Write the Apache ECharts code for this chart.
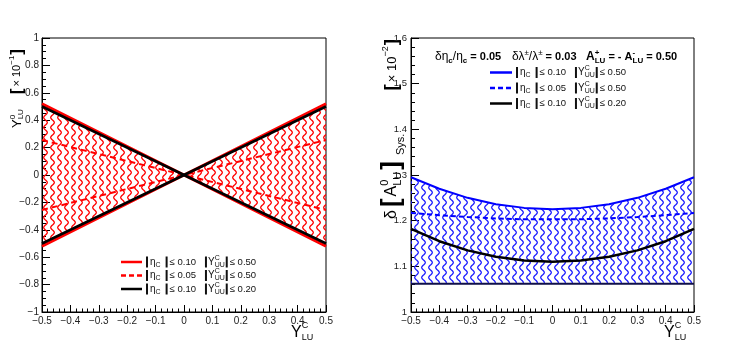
<!DOCTYPE html>
<html><head><meta charset="utf-8">
<script src="https://cdn.jsdelivr.net/npm/echarts@6/dist/echarts.min.js"></script>
<style>html,body{margin:0;padding:0;background:#fff}#c{width:737px;height:351px}</style>
</head><body><div id="c"></div>
<script>
// ---------------- data ----------------
const leftX = [-0.5, 0, 0.5];
const redSolidFall = [0.52, 0, -0.52];
const redSolidRise = [-0.52, 0, 0.52];
const redDashFall = [0.255, 0, -0.255];
const redDashRise = [-0.255, 0, 0.255];
const blackFall = [0.50, 0, -0.50];
const blackRise = [-0.50, 0, 0.50];

const rightX = [-0.5, -0.4, -0.3, -0.2, -0.1, 0, 0.1, 0.2, 0.3, 0.4, 0.5];
const blueSolid = [1.295, 1.270, 1.250, 1.236, 1.228, 1.225, 1.228, 1.236, 1.250, 1.270, 1.295];
const blueDash  = [1.217, 1.212, 1.208, 1.205, 1.203, 1.203, 1.203, 1.205, 1.208, 1.212, 1.217];
const blackCurve = [1.182, 1.155, 1.135, 1.121, 1.113, 1.110, 1.113, 1.121, 1.135, 1.155, 1.182];
const floorLine = [1.062, 1.062, 1.062, 1.062, 1.062, 1.062, 1.062, 1.062, 1.062, 1.062, 1.062];

const xTickLabels = ['−0.5', '−0.4', '−0.3', '−0.2', '−0.1', '0', '0.1', '0.2', '0.3', '0.4', '0.5'];
const leftYTickLabels = ['−1', '−0.8', '−0.6', '−0.4', '−0.2', '0', '0.2', '0.4', '0.6', '0.8', '1'];
const rightYTickLabels = ['1', '1.1', '1.2', '1.3', '1.4', '1.5', '1.6'];

const legendEta = ['0.10', '0.05', '0.10'];
const legendY = ['0.50', '0.50', '0.20'];

// ---------------- helpers ----------------
const FF = '"Liberation Sans", Arial, sans-serif';
function wavePattern(color) {
  const w = 7, h = 10;
  const c = document.createElement('canvas'); c.width = w; c.height = h;
  const g = c.getContext('2d');
  g.strokeStyle = color; g.lineWidth = 1.3;
  g.beginPath();
  for (let y = -1; y <= h + 1; y += 0.5) {
    const x = 3.5 + 1.8 * Math.sin(2 * Math.PI * y / h);
    if (y === -1) g.moveTo(x, y); else g.lineTo(x, y);
  }
  g.stroke();
  return c;
}
const mctx = document.createElement('canvas').getContext('2d');
function measure(t, s, b) { mctx.font = (b ? 'bold ' : '') + s + 'px ' + FF; return mctx.measureText(t).width; }
function T(x, y, t, s, b, color) {
  return { type: 'text', x: x, y: y, style: { text: t, fontSize: s, fontFamily: FF, fontWeight: b ? 'bold' : 'normal', fill: color || '#000', textVerticalAlign: 'middle', verticalAlign: 'middle', textAlign: 'left', align: 'left' } };
}
function layout(parts, S, col) {
  let cx = 0; const ch = [];
  for (const p of parts) {
    if (p.gap !== undefined) { cx += p.gap; continue; }
    if (p.bar) { ch.push({ type: 'rect', shape: { x: cx, y: -p.h / 2 + (p.dy || 0), width: p.w || 2, height: p.h }, style: { fill: col } }); cx += (p.w || 2); continue; }
    if (p.t !== undefined) {
      const s = p.s || S;
      ch.push(T(cx, p.dy || 0, p.t, s, p.b, col));
      cx += measure(p.t, s, p.b);
    } else {
      const s = p.s || S * 0.65; let w = 0;
      if (p.sup !== undefined) { ch.push(T(cx, -(p.up !== undefined ? p.up : S * 0.38), p.sup, s, p.b, col)); w = Math.max(w, measure(p.sup, s, p.b)); }
      if (p.sub !== undefined) { ch.push(T(cx, (p.dn !== undefined ? p.dn : S * 0.32), p.sub, s, p.b, col)); w = Math.max(w, measure(p.sub, s, p.b)); }
      cx += w;
    }
  }
  return { ch, w: cx };
}
// vertical (bottom-to-top) text; anchor: 'start' => (x,y) is bottom, 'end' => (x,y) is top
function vt(parts, opt) {
  const L = layout(parts, opt.size || 12, opt.color || '#000');
  const y0 = opt.anchor === 'end' ? opt.y + L.w : opt.y;
  return { type: 'group', x: opt.x, y: y0, rotation: Math.PI / 2, children: L.ch };
}
function rt(parts, opt) {
  const L = layout(parts, opt.size || 12, opt.color || '#000');
  return { type: 'group', x: opt.x, y: opt.y, children: L.ch };
}

// ---------------- chart ----------------
const chart = echarts.init(document.getElementById('c'), null, { renderer: 'canvas' });
const redPat = { image: wavePattern('#ff0000'), repeat: 'repeat' };
const bluePat = { image: wavePattern('#1f1fff'), repeat: 'repeat' };

function xAxisCfg(gi) {
  return {
    gridIndex: gi, type: 'value', min: -0.5, max: 0.5, interval: 0.1,
    axisLine: { show: true, onZero: false, lineStyle: { color: '#000', width: 1 } },
    axisTick: { show: true, inside: true, length: 7, lineStyle: { color: '#000' } },
    minorTick: { show: true, splitNumber: 5, length: 3.5, lineStyle: { color: '#000' } },
    splitLine: { show: false }, minorSplitLine: { show: false },
    axisLabel: { fontSize: 10, fontFamily: FF, color: '#222', margin: 4, showMinLabel: true, showMaxLabel: true,
      formatter: (v) => xTickLabels[Math.round((v + 0.5) / 0.1)] }
  };
}
const leftGrid = { left: 42, top: 38, width: 284, height: 274 };
const rightGrid = { left: 411, top: 38, width: 283, height: 274 };

function line(name, gi, xs, ys, color, width, type) {
  return { name, type: 'line', xAxisIndex: gi, yAxisIndex: gi, data: xs.map((x, i) => [x, ys[i]]), symbol: 'none', silent: true,
    lineStyle: { color, width, type: type || 'solid' }, itemStyle: { color } };
}

const option = {
  animation: false,
  backgroundColor: '#fff',
  grid: [
    Object.assign({ show: true, borderColor: '#000', borderWidth: 1, backgroundColor: 'transparent' }, leftGrid),
    Object.assign({ show: true, borderColor: '#000', borderWidth: 1, backgroundColor: 'transparent' }, rightGrid)
  ],
  xAxis: [xAxisCfg(0), xAxisCfg(1)],
  yAxis: [
    { gridIndex: 0, type: 'value', min: -1, max: 1, interval: 0.2,
      axisLine: { show: true, onZero: false, lineStyle: { color: '#000' } },
      axisTick: { show: true, inside: true, length: 8, lineStyle: { color: '#000' } },
      minorTick: { show: true, splitNumber: 4, length: 4, lineStyle: { color: '#000' } },
      splitLine: { show: false },
      axisLabel: { fontSize: 10, fontFamily: FF, color: '#222', margin: 3, formatter: (v) => leftYTickLabels[Math.round((v + 1) / 0.2)] } },
    { gridIndex: 1, type: 'value', min: 1, max: 1.6, interval: 0.1,
      axisLine: { show: true, onZero: false, lineStyle: { color: '#000' } },
      axisTick: { show: true, inside: true, length: 8, lineStyle: { color: '#000' } },
      minorTick: { show: true, splitNumber: 5, length: 4, lineStyle: { color: '#000' } },
      splitLine: { show: false },
      axisLabel: { fontSize: 9.5, fontFamily: FF, color: '#222', margin: 4, formatter: (v) => rightYTickLabels[Math.round((v - 1) / 0.1)] } }
  ],
  series: [
    // left hatched bow-tie
    { type: 'line', xAxisIndex: 0, yAxisIndex: 0, silent: true, symbol: 'none', lineStyle: { opacity: 0 },
      areaStyle: { color: redPat, opacity: 1 }, data: leftX.map((x, i) => [x, Math.max(redSolidFall[i], redSolidRise[i])]) },
    { type: 'line', xAxisIndex: 0, yAxisIndex: 0, silent: true, symbol: 'none', lineStyle: { opacity: 0 },
      areaStyle: { color: redPat, opacity: 1 }, data: leftX.map((x, i) => [x, Math.min(redSolidFall[i], redSolidRise[i])]) },
    line('redFall', 0, leftX, redSolidFall, '#ff0000', 3),
    line('redRise', 0, leftX, redSolidRise, '#ff0000', 3),
    line('redDashFall', 0, leftX, redDashFall, '#ff0000', 2, [6, 4]),
    line('redDashRise', 0, leftX, redDashRise, '#ff0000', 2, [6, 4]),
    line('blackFall', 0, leftX, blackFall, '#000000', 2.5),
    line('blackRise', 0, leftX, blackRise, '#000000', 2.5),
    // right hatched band between floor line and blue solid curve
    { type: 'custom', xAxisIndex: 1, yAxisIndex: 1, silent: true, data: [[0, 1.2]], clip: true,
      renderItem: function (params, api) {
        const pts = rightX.map((x, i) => api.coord([x, blueSolid[i]]));
        for (let i = rightX.length - 1; i >= 0; i--) pts.push(api.coord([rightX[i], floorLine[i]]));
        return { type: 'polygon', shape: { points: pts }, style: { fill: bluePat, stroke: null } };
      } },
    line('floor', 1, rightX, floorLine, '#10104a', 2),
    line('blueSolid', 1, rightX, blueSolid, '#0000ff', 2),
    line('blueDash', 1, rightX, blueDash, '#0000ff', 2, [5, 3]),
    line('blackCurve', 1, rightX, blackCurve, '#000000', 2.5)
  ],
  graphic: []
};

// ----- titles and legends -----
const G = option.graphic;
// left y title
G.push(vt([{ t: 'Y', s: 13 }, { sup: '0', sub: 'LU', s: 8 }], { x: 17, y: 128, size: 12 }));
G.push(vt([{ t: '[', s: 17, b: true }, { gap: 2 }, { t: '× 10', s: 11 }, { sup: '−1', s: 8, up: 5 }, { gap: 1 }, { t: ']', s: 17, b: true }], { x: 17, y: 49, size: 12, anchor: 'end' }));
// right y title
G.push(vt([{ t: 'δ', s: 16 }, { gap: 3 }, { t: '[', s: 26, b: true }, { gap: 2 }, { t: 'A', s: 16 }, { sup: '0', sub: 'LU', s: 11, up: 7, dn: 6 }, { gap: 2 }, { t: ']', s: 26, b: true }, { gap: 6 }, { sub: 'Sys.', s: 11, dn: 9 }],
  { x: 392, y: 219, size: 16 }));
G.push(vt([{ t: '[', s: 19, b: true }, { gap: 2 }, { t: '× 10', s: 13 }, { sup: '−2', s: 9, up: 6 }, { gap: 1 }, { t: ']', s: 19, b: true }], { x: 392, y: 39, size: 13, anchor: 'end' }));
// x titles
G.push(rt([{ t: 'Y', s: 16 }, { sup: 'C', sub: 'LU', s: 9, up: 7, dn: 5 }], { x: 291, y: 333, size: 16 }));
G.push(rt([{ t: 'Y', s: 16 }, { sup: 'C', sub: 'LU', s: 9, up: 7, dn: 5 }], { x: 664, y: 333, size: 16 }));
// right annotation
G.push(rt([{ t: 'δη', s: 12 }, { sub: 'c', s: 8, b: true, dn: 4 }, { t: '/η', s: 12 }, { sub: 'c', s: 8, b: true, dn: 4 }, { t: ' = 0.05', s: 11, b: true }], { x: 435, y: 57, size: 12 }));
G.push(rt([{ t: 'δλ', s: 12 }, { sup: '±', s: 8, up: 4 }, { t: '/λ', s: 12 }, { sup: '±', s: 8, up: 4 }, { t: ' = 0.03', s: 11, b: true }], { x: 512, y: 57, size: 12 }));
G.push(rt([{ t: 'A', s: 12, b: true }, { sup: '+', sub: 'LU', s: 8, b: true, up: 4, dn: 4 }, { t: ' = - A', s: 11, b: true }, { sup: '-', sub: 'LU', s: 8, b: true, up: 4, dn: 4 }, { t: ' = 0.50', s: 11, b: true }], { x: 586, y: 57, size: 12 }));

function legendRow(x, y, eta, yv) {
  return rt([{ bar: true, h: 11 }, { gap: 2 }, { t: 'η', s: 10 }, { sub: 'C', s: 7, dn: 3 }, { gap: 5 }, { bar: true, h: 11 }, { gap: 2 }, { t: '≤ ' + eta, s: 9.5 },
    { gap: 9 }, { bar: true, h: 11 }, { gap: 1 }, { t: 'Y', s: 10 }, { sup: 'C', sub: 'UU', s: 7, up: 4, dn: 3 }, { gap: 1 }, { bar: true, h: 11 }, { gap: 2 }, { t: '≤ ' + yv, s: 9.5 }],
    { x: x, y: y, size: 10, color: '#111' });
}
function legendLine(x0, x1, y, color, dash, w) {
  return { type: 'line', shape: { x1: x0, y1: y, x2: x1, y2: y }, style: { stroke: color, lineWidth: w, lineDash: dash || null } };
}
const leftRowsY = [262, 275.5, 289];
const rightRowsY = [72.5, 88, 103.5];
const leftColors = [['#ff0000', null], ['#ff0000', [5, 3]], ['#000', null]];
const rightColors = [['#0000ff', null], ['#0000ff', [5, 3]], ['#000', null]];
for (let i = 0; i < 3; i++) {
  G.push(legendLine(121, 142, leftRowsY[i], leftColors[i][0], leftColors[i][1], 2.5));
  G.push(legendRow(146, leftRowsY[i], legendEta[i], legendY[i]));
  G.push(legendLine(490, 512, rightRowsY[i], rightColors[i][0], rightColors[i][1], 2.5));
  G.push(legendRow(516, rightRowsY[i], legendEta[i], legendY[i]));
}

chart.setOption(option);
</script></body></html>
